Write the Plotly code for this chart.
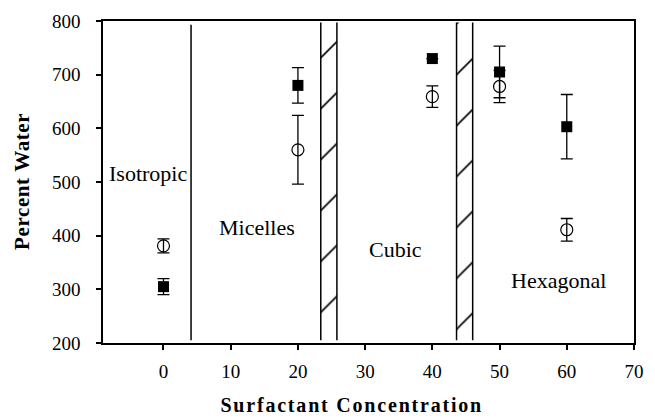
import plotly.graph_objects as go

# Surfactant concentration of each sample
conc = [0, 20, 40, 50, 60]

# Series drawn with filled squares
sq_water = [305, 680, 730, 705, 603]
sq_err = [15, 33, 0, 48, 60]

# Series drawn with open circles
ci_water = [381, 560, 659, 678, 411]
ci_err = [13, 64, 20, 30, 21]

# Phase boundaries
solid_boundary = [4.1]
hatched_bands = [(23.4, 25.8), (43.6, 46.0)]
band_bottom, band_top = 205, 797

# Phase labels: text, x, y
phase_names = ["Isotropic", "Micelles", "Cubic", "Hexagonal"]
phase_x = [-2.3, 13.9, 34.5, 58.8]
phase_y = [515, 415, 375, 317]

FONT = "Liberation Serif, Times New Roman, serif"

fig = go.Figure()

# Hatched two-phase bands
fig.add_trace(go.Bar(
    x=[(a + b) / 2 for a, b in hatched_bands],
    width=[b - a for a, b in hatched_bands],
    base=[band_bottom] * len(hatched_bands),
    y=[band_top - band_bottom] * len(hatched_bands),
    marker=dict(color="white", line=dict(width=0),
                pattern=dict(shape="/", fgcolor="black", bgcolor="white",
                             fgopacity=1, size=36, solidity=0.045)),
    hoverinfo="skip", showlegend=False,
))

shapes = []
for a, b in hatched_bands:
    for xv in (a, b):
        shapes.append(dict(type="line", xref="x", yref="y", x0=xv, x1=xv,
                           y0=band_bottom, y1=band_top,
                           line=dict(color="black", width=1.5)))
for xv in solid_boundary:
    shapes.append(dict(type="line", xref="x", yref="y", x0=xv, x1=xv,
                       y0=band_bottom, y1=793,
                       line=dict(color="black", width=1.5)))

fig.add_trace(go.Scatter(
    x=conc, y=ci_water, mode="markers",
    marker=dict(symbol="circle-open", size=12, color="black",
                line=dict(width=1.2, color="black")),
    error_y=dict(type="data", array=ci_err, visible=True,
                 color="black", thickness=1.3, width=6),
    showlegend=False,
))
fig.add_trace(go.Scatter(
    x=conc, y=sq_water, mode="markers",
    marker=dict(symbol="square", size=11, color="black"),
    error_y=dict(type="data", array=sq_err, visible=True,
                 color="black", thickness=1.3, width=6),
    showlegend=False,
))

annotations = [
    dict(x=xv, y=yv, xref="x", yref="y", text=t, showarrow=False,
         font=dict(family=FONT, size=22, color="black"))
    for t, xv, yv in zip(phase_names, phase_x, phase_y)
]
annotations.append(dict(
    x=0, y=0.5, xref="paper", yref="paper", xshift=-81, textangle=-90,
    xanchor="center", yanchor="middle",
    text="<b>Percent Water</b>", showarrow=False,
    font=dict(family=FONT, size=21, color="black")))
annotations.append(dict(
    x=0.4686, y=0, xref="paper", yref="paper", yshift=-62,
    xanchor="center", yanchor="middle",
    text="<b>Surfactant Concentration</b>", showarrow=False,
    font=dict(family=FONT, size=20, color="black")))

fig.update_layout(
    width=655, height=418,
    margin=dict(l=103, r=11, t=17, b=75),
    paper_bgcolor="white", plot_bgcolor="white",
    barmode="overlay", showlegend=False,
    shapes=shapes, annotations=annotations,
    font=dict(family=FONT, color="black"),
)
fig.update_xaxes(
    range=[-9, 70], tick0=0, dtick=10, ticks="outside", ticklen=5,
    tickwidth=1.5, tickcolor="black", showgrid=False, zeroline=False,
    showline=True, linecolor="black", linewidth=1.5, mirror=True,
    tickfont=dict(family=FONT, size=19, color="black"), ticklabelstandoff=5,
)
fig.update_yaxes(
    range=[200, 800], tick0=200, dtick=100, ticks="outside", ticklen=5,
    tickwidth=1.5, tickcolor="black", showgrid=False, zeroline=False,
    showline=True, linecolor="black", linewidth=1.5, mirror=True,
    tickfont=dict(family=FONT, size=19, color="black"), ticklabelstandoff=12,
)

# Spread the letters of the axis titles a little
spacing_js = """
var gd = document.getElementById('{plot_id}');
gd.querySelectorAll('.annotation-text').forEach(function (t) {
  var s = t.textContent;
  if (s.indexOf('Surfactant') === 0) { t.style.letterSpacing = '1.8px'; }
  if (s.indexOf('Percent') === 0) { t.style.letterSpacing = '0.6px'; }
});
"""
fig.write_html("out.html", post_script=spacing_js)
